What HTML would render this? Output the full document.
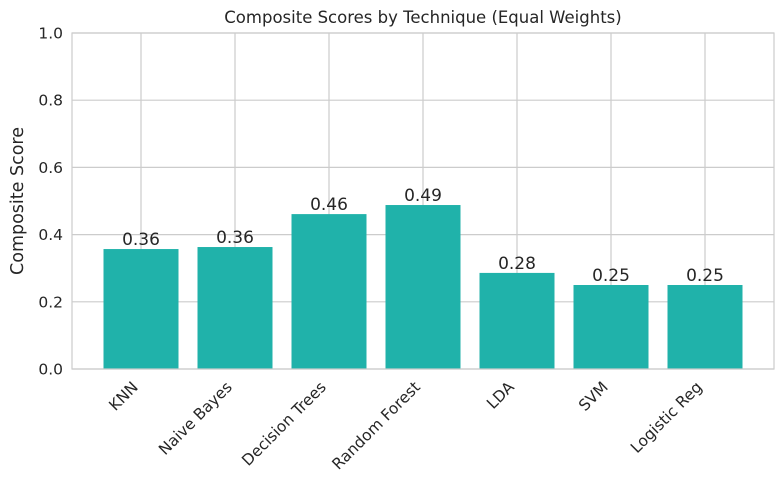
<!DOCTYPE html>
<html><head><meta charset="utf-8"><style>
body{margin:0;background:#fff;}
svg text{font-family:"DejaVu Sans","Liberation Sans",sans-serif;fill:#262626;}
</style></head><body>
<svg id="chart" width="784" height="484" xmlns="http://www.w3.org/2000/svg">
<text x="423" y="23" font-size="16.5" text-anchor="middle">Composite Scores by Technique (Equal Weights)</text>
<text x="0" y="0" font-size="17.5" text-anchor="middle" transform="translate(23,201) rotate(-90)">Composite Score</text>
<g id="grid"></g><g id="bars"></g><g id="labels"></g>
</svg>
<script>
const categories=["KNN","Naive Bayes","Decision Trees","Random Forest","LDA","SVM","Logistic Reg"];
const scores=[0.357,0.363,0.461,0.488,0.286,0.25,0.25];
const valueLabels=["0.36","0.36","0.46","0.49","0.28","0.25","0.25"];
const yTicks=[0,0.2,0.4,0.6,0.8,1.0];
const yTickLabels=["0.0","0.2","0.4","0.6","0.8","1.0"];
const NS="http://www.w3.org/2000/svg";
const L=72,R=774,T=33,B=369;
const y=v=>B-(v/1.0)*(B-T);
const step=94, x0=141;
const x=i=>x0+step*i;
const bw=75;
function mk(tag,attrs,parent){const e=document.createElementNS(NS,tag);for(const k in attrs)e.setAttribute(k,attrs[k]);parent.appendChild(e);return e;}
const svg=document.getElementById('chart');
const grid=document.getElementById('grid'),bars=document.getElementById('bars'),labels=document.getElementById('labels');
yTicks.forEach((t,i)=>{
 const l=mk('line',{x1:L,x2:R,y1:y(t),y2:y(t),stroke:'#cccccc','stroke-width':1.2},grid);
 
 
 const tx=mk('text',{x:L-9,y:y(t)+5.5,'font-size':15.5,'text-anchor':'end'},labels);
 tx.textContent=yTickLabels[i];
 
 
});
categories.forEach((c,i)=>{
 const g=mk('line',{x1:x(i),x2:x(i),y1:T,y2:B,stroke:'#cccccc','stroke-width':1.2},grid);
 
 
 const r=mk('rect',{x:x(i)-bw/2,y:y(scores[i]),width:bw,height:B-y(scores[i]),fill:'#20b2aa'},bars);
 
 
 const v=mk('text',{x:x(i),y:y(scores[i])-4,'font-size':17,'text-anchor':'middle'},labels);
 v.textContent=valueLabels[i];
 
 
 const xl=mk('text',{x:0,y:0,'font-size':15.5,'text-anchor':'end',transform:`translate(${x(i)-2},${B+19}) rotate(-45)`},labels);
 xl.textContent=c;
 
 
});
const frame=mk('rect',{x:L,y:T,width:R-L,height:B-T,fill:'none',stroke:'#cccccc','stroke-width':1.2},svg);


</script>
</body></html>
